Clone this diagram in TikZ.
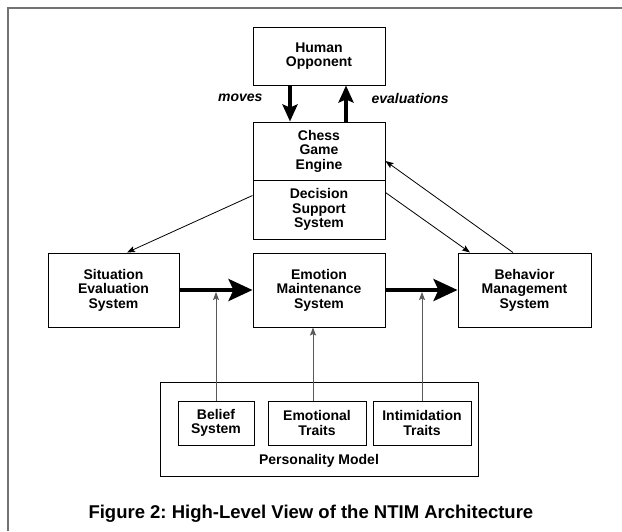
\documentclass[tikz,border=0pt]{standalone}
\usepackage{fontspec}
\setmainfont{Liberation Sans}
\usetikzlibrary{arrows.meta}
\frenchspacing
\begin{document}
\begin{tikzpicture}[x=1pt, y=-1pt,
    font=\fontsize{14}{14.5}\selectfont\bfseries,
    unit/.style={draw, line width=1pt, align=center, inner sep=0pt},
    flow/.style={line width=4pt, -{Stealth[length=24pt,width=22pt,inset=5pt]}},
    move/.style={line width=3.5pt, -{Stealth[length=17pt,width=15pt,inset=3pt]}},
    link/.style={line width=0.8pt, -{Stealth[length=8pt,width=6pt,inset=1.5pt]}},
    trait/.style={black!65, line width=1pt, -{Stealth[length=8pt,width=6pt,inset=1.5pt]}}]

    \useasboundingbox (0,0) rectangle (622,531);
    \draw[black!55, line width=2pt] (8,531) -- (8,8) -- (622,8);

    \node[unit, minimum width=132pt, minimum height=58pt] (human) at (319,56){Human\\Opponent};
    \node[unit, minimum width=132pt, minimum height=58pt] (chess) at (319,151){Chess\\Game\\Engine};
    \node[unit, minimum width=132pt, minimum height=59pt] (decision) at (319,209.5){Decision\\Support\\System};

    \node[unit, minimum width=131pt, minimum height=74pt] (situation) at (113.5,290){Situation\\Evaluation\\System};
    \node[unit, minimum width=132pt, minimum height=74pt] (emotion) at (319,290){Emotion\\Maintenance\\System};
    \node[unit, minimum width=133pt, minimum height=74pt] (behavior) at (524.5,290){Behavior\\Management\\System};

    \node[unit, minimum width=318pt, minimum height=94pt] (personality) at (319,429){};
        \node (pmlabel) at (319,461){Personality Model};
    \node[unit, minimum width=76pt, minimum height=44pt] (belief) at (216,423){Belief\\System};
    \node[unit, minimum width=98pt, minimum height=44pt] (emotional) at (317,423){Emotional\\Traits};
    \node[unit, minimum width=98pt, minimum height=44pt] (intimidation) at (422,423){Intimidation\\Traits};

    \node[anchor=east, font=\fontsize{14}{14.5}\selectfont\bfseries\itshape] (moves) at (266,98){moves};
    \node[anchor=west, font=\fontsize{14}{14.5}\selectfont\bfseries\itshape] (evals) at (368,98){evaluations};

    \draw[move] ([xshift=-29pt]human.south) -- ([xshift=-29pt]chess.north);
    \draw[move] ([xshift=27pt]chess.north) -- ([xshift=27pt]human.south);

    \draw[link] ([yshift=14pt]decision.west) -- ([xshift=13.5pt]situation.north);
    \draw[link] ([yshift=17pt]decision.east) -- ([xshift=-54.5pt]behavior.north);
    \draw[link] ([xshift=-11.5pt]behavior.north) -- ([yshift=-10pt]chess.east);

    \draw[flow] (situation.east) -- (emotion.west);
    \draw[flow] (emotion.east) -- (behavior.west);

    \draw[trait, shorten >=2pt] (belief.north) -- (belief.north |- situation.east);
    \draw[trait] ([xshift=-4pt]emotional.north) -- ([xshift=-4pt]emotional.north |- emotion.south);
    \draw[trait, shorten >=2pt] (intimidation.north) -- (intimidation.north |- emotion.east);

    \node[font=\fontsize{18.5}{20}\selectfont\bfseries, anchor=base west] (caption) at (85,518){Figure 2: High-Level View of the NTIM Architecture};

\end{tikzpicture}
\end{document}
